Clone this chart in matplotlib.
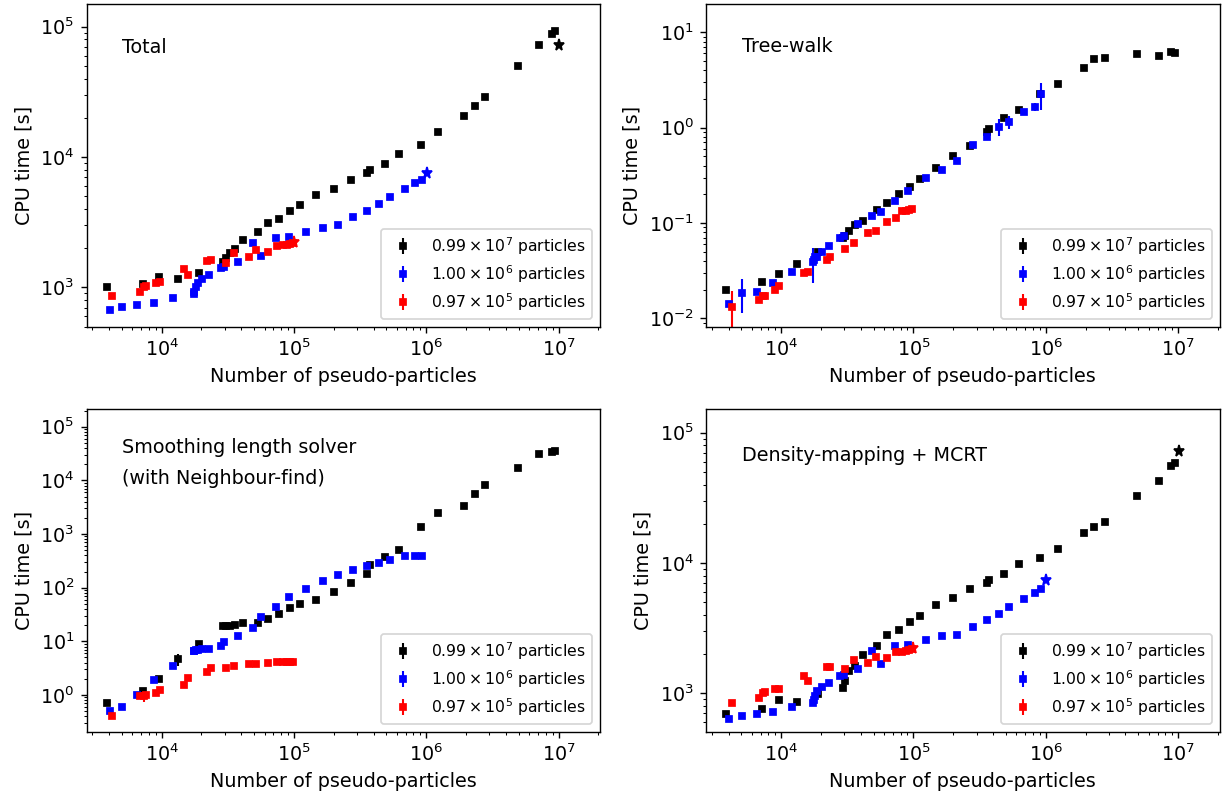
import numpy as np
import matplotlib
matplotlib.use("Agg")
import matplotlib.pyplot as plt

plt.rcParams.update({"xtick.labelsize": 11, "ytick.labelsize": 11,
                     "axes.labelsize": 11})

# ---------------- data ----------------
# number of pseudo-particles for each series
N_black = [3837, 7178, 9550, 13210, 19140, 29240, 30620, 32810, 35970, 41400,
           53210, 63530, 77090, 93760, 111700, 147600, 199500, 269800, 356500, 375000,
           485300, 622300, 912000, 1.233e6, 1.936e6, 2.333e6, 2.780e6, 4.909e6, 7.112e6,
           8.913e6, 9.441e6]
N_blue = [4064, 5035, 6546, 8750, 12160, 17540, 17620, 18070, 18710, 20280,
          22910, 28050, 29720, 37930, 48980, 56360, 73110, 91620, 123900, 164800,
          213800, 280500, 356500, 441600, 528400, 690200, 822200, 922600]
N_red = [4236, 6823, 7345, 7568, 9057, 9705, 14830, 15890, 22130, 23440,
         30480, 35400, 45710, 51880, 63530, 73960, 82220, 88100, 93330, 97720]
N_star = [1.01e7, 1.01e6, 1.0e5]

labels = [r"$0.99\times10^{7}$ particles",
          r"$1.00\times10^{6}$ particles",
          r"$0.97\times10^{5}$ particles"]
colors = ["black", "blue", "red"]

titles = ["Total", "Tree-walk",
          "Smoothing length solver\n(with Neighbour-find)",
          "Density-mapping + MCRT"]

# Total
total_black = [1000, 1066, 1200, 1164, 1294, 1556, 1688, 1824, 1958, 2309, 2644, 3098,
               3362, 3829, 4283, 5083, 5713, 6699, 7540, 7909, 8837, 10600, 12400,
               15500, 20600, 24500, 28900, 49600, 72400, 87500, 93100]
total_blue = [673, 709, 731, 762, 832, 883, 925, 1000, 1084, 1151, 1242, 1399, 1439,
              1564, 2176, 1738, 2388, 2421, 2673, 2866, 2990, 3444, 3873, 4359, 4906,
              5713, 6286, 6699]
total_red = [858, 920, 1000, 1028, 1084, 1103, 1390, 1242, 1600, 1621, 1537, 1824,
             1718, 1932, 1866, 2075, 2100, 2113, 2137, 2176]
total_star = [72400, 7503, 2240]

# Tree-walk
tree_black = [0.0200, 0.0241, 0.0294, 0.0369, 0.0501, 0.0702, 0.0740, 0.0818, 0.0946,
              0.106, 0.137, 0.161, 0.202, 0.237, 0.288, 0.378, 0.508, 0.643, 0.908,
              0.969, 1.255, 1.534, 2.24, 2.89, 4.20, 5.21, 5.38, 5.97, 5.65, 6.18, 6.03]
tree_blue = [0.01426, 0.0186, 0.0189, 0.0237, 0.0304, 0.0393, 0.0410, 0.0437, 0.0444,
             0.0493, 0.0570, 0.0702, 0.0736, 0.0984, 0.1186, 0.1315, 0.170, 0.217,
             0.297, 0.363, 0.451, 0.659, 0.805, 1.02, 1.14, 1.46, 1.66, 2.24]
tree_blue_err = [0, 0.0072, 0, 0, 0, 0.016, 0, 0, 0, 0, 0, 0, 0, 0, 0, 0, 0, 0,
                 0, 0, 0, 0, 0, 0.21, 0.17, 0, 0.15, 0.70]
tree_red = [0.01327, 0.01549, 0.01718, 0.0170, 0.0200, 0.0217, 0.0302, 0.0307, 0.0410,
            0.0437, 0.0539, 0.0613, 0.0780, 0.0819, 0.1033, 0.112, 0.135, 0.133,
            0.137, 0.139]
tree_red_err = [0.006] + [0] * 19

# Smoothing length solver
smooth_black = [0.719, 1.19, 2.01, 4.69, 9.04, 19.0, 19.0, 19.3, 19.9, 21.7, 22.0, 25.7,
                32.7, 42.4, 50.3, 58.9, 83.0, 120.5, 180, 265, 368, 510, 1334, 2500,
                3327, 5500, 8310, 17250, 30970, 33340, 35260]
smooth_black_err = [0, 0, 0, 1.2, 1.2] + [0] * 26
smooth_blue = [0.503, 0.597, 0.986, 1.88, 3.43, 6.70, 6.70, 6.80, 6.90, 7.10, 7.30, 8.07,
               9.58, 12.4, 17.7, 28.0, 44.3, 66.2, 95.8, 131, 170, 210, 253, 292, 328,
               384, 384, 384]
smooth_blue_err = [0.07] + [0] * 27
smooth_red = [0.406, 0.958, 0.972, 0.986, 1.07, 1.22, 1.54, 2.05, 2.65, 3.19, 3.23,
              3.52, 3.73, 3.73, 4.00, 4.06, 4.06, 4.06, 4.06, 4.06]
smooth_red_err = [0, 0, 0.22] + [0] * 17

# Density-mapping + MCRT
dens_black = [693, 762, 888, 858, 988, 1092, 1243, 1490, 1629, 1967, 2317, 2785, 3044,
              3505, 3942, 4762, 5357, 6286, 7060, 7364, 8186, 9822, 10860, 12880,
              17090, 18790, 20530, 32650, 42340, 55470, 58200]
dens_blue = [631, 666, 693, 718, 789, 838, 888, 959, 1042, 1112, 1200, 1358, 1374, 1528,
             2123, 1670, 2296, 2336, 2564, 2737, 2785, 3210, 3633, 4061, 4595, 5322,
             5916, 6350]
dens_red = [838, 916, 1000, 1029, 1073, 1084, 1358, 1243, 1593, 1600, 1528, 1803, 1710,
            1910, 1866, 2065, 2084, 2112, 2148, 2174]
dens_star = [72740, 7413, 2212]

# ---------------- figure ----------------
W, H, DPI = 1226, 798, 125
fig = plt.figure(figsize=(W / DPI, H / DPI), dpi=DPI)

def frac(l, t, r, b):
    return [l / W, 1 - b / H, (r - l) / W, (b - t) / H]

boxes = [frac(86.5, 4, 600, 326.7), frac(706, 4, 1219.5, 326.7),
         frac(86.5, 409.3, 600, 731.7), frac(706, 409.3, 1219.5, 731.7)]
xlim = (10 ** 3.432, 10 ** 7.313)
ylims = [(10 ** 2.698, 10 ** 5.174), (10 ** -2.087, 10 ** 1.297),
         (10 ** -0.684, 10 ** 5.324), (10 ** 2.705, 10 ** 5.180)]
text_pos = [(0.07, 0.864), (0.07, 0.868), (0.07, 0.88), (0.07, 0.857)]

panels = [
    ([total_black, total_blue, total_red], [None, None, None], total_star),
    ([tree_black, tree_blue, tree_red], [None, tree_blue_err, tree_red_err], None),
    ([smooth_black, smooth_blue, smooth_red],
     [smooth_black_err, smooth_blue_err, smooth_red_err], None),
    ([dens_black, dens_blue, dens_red], [None, None, None], dens_star),
]
Ns = [N_black, N_blue, N_red]

for k, (ys, errs, stars) in enumerate(panels):
    ax = fig.add_axes(boxes[k])
    ax.set_xscale("log")
    ax.set_yscale("log")
    for i in range(3):
        err = errs[i] if errs[i] is not None else np.zeros(len(ys[i]))
        ax.errorbar(Ns[i], ys[i], yerr=err, fmt="s", color=colors[i],
                    ms=3.0, elinewidth=1.2, label=labels[i])
    if stars is not None:
        for i in range(3):
            ax.plot([N_star[i]], [stars[i]], marker="*", color=colors[i], ms=6.5,
                    linestyle="none")
    ax.set_xlim(*xlim)
    ax.set_ylim(*ylims[k])
    ax.set_xlabel("Number of pseudo-particles")
    ax.set_ylabel("CPU time [s]")
    if k == 2:
        ax.text(0.07, 0.88, "Smoothing length solver", transform=ax.transAxes,
                fontsize=11, ha="left", va="center")
        ax.text(0.07, 0.785, "(with Neighbour-find)", transform=ax.transAxes,
                fontsize=11, ha="left", va="center")
    else:
        ax.text(text_pos[k][0], text_pos[k][1], titles[k], transform=ax.transAxes,
                fontsize=11, ha="left", va="center")
    ax.legend(loc="lower right", fontsize=9, labelspacing=0.4)

fig.savefig("out.png", dpi=DPI)
